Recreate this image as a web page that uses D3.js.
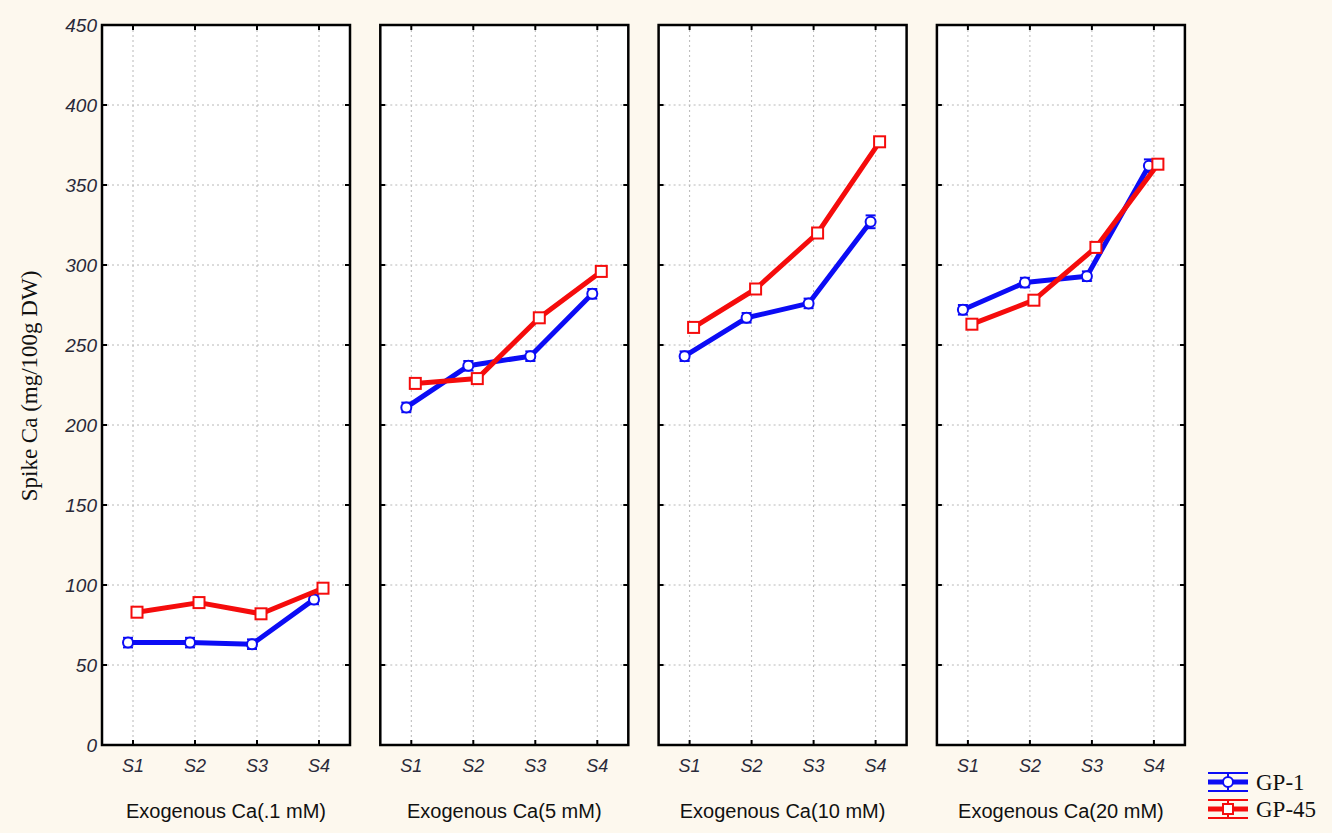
<!DOCTYPE html>
<html>
<head>
<meta charset="utf-8">
<script src="https://cdn.jsdelivr.net/npm/d3@7"></script>
<style>
  body { margin: 0; background: #fdf8ee; }
  svg { display: block; }
  .ylab text { font-family: Arial, "Liberation Sans", sans-serif; font-style: italic; font-size: 19px; fill: #2a2a3a; }
  .xlab text { font-family: Arial, "Liberation Sans", sans-serif; font-style: italic; font-size: 18px; fill: #2a2a3a; }
</style>
</head>
<body>
<script>
var stages = ["S1", "S2", "S3", "S4"];
var panels = ["Exogenous Ca(.1 mM)", "Exogenous Ca(5 mM)", "Exogenous Ca(10 mM)", "Exogenous Ca(20 mM)"];
var yTicks = [0, 50, 100, 150, 200, 250, 300, 350, 400, 450];

// mean values per panel, S1..S4
var gp1 = [
  [64, 64, 63, 91],
  [211, 237, 243, 282],
  [243, 267, 276, 327],
  [272, 289, 293, 362]
];
var gp45 = [
  [83, 89, 82, 98],
  [226, 229, 267, 296],
  [261, 285, 320, 377],
  [263, 278, 311, 363]
];
// error bar half-widths
var gp1Err = [
  [3, 3, 3, 3],
  [3, 3, 3, 3],
  [3, 3, 3, 4],
  [3, 3, 3, 4]
];
var gp45Err = [
  [3, 3, 3, 3],
  [3, 3, 3, 3],
  [3, 3, 3, 3],
  [3, 3, 3, 3]
];

var width = 1332, height = 833;
var plotTop = 25, plotBottom = 745;
var panelW = 248, panelStep = 278.3, firstLeft = 102;

var svg = d3.select("body").append("svg").attr("width", width).attr("height", height);
svg.append("rect").attr("width", width).attr("height", height).attr("fill", "#fdf8ee");

var y = d3.scaleLinear().domain([0, 450]).range([plotBottom, plotTop]);
var x = d3.scalePoint().domain(stages).range([0, panelW]).padding(0.5);

var series = [
  { name: "GP-1", vals: gp1, err: gp1Err, color: "#0c0cf5", shape: "circle", dx: -5 },
  { name: "GP-45", vals: gp45, err: gp45Err, color: "#f50c0c", shape: "square", dx: 4 }
];

panels.forEach(function(title, p) {
  var g = svg.append("g").attr("transform", "translate(" + (firstLeft + p * panelStep) + ",0)");

  g.append("rect").attr("x", 0).attr("y", plotTop).attr("width", panelW).attr("height", plotBottom - plotTop).attr("fill", "#fff");

  // grid
  g.selectAll(".hg").data(yTicks.slice(1, -1)).enter().append("line")
    .attr("x1", 0).attr("x2", panelW)
    .attr("y1", function(d) { return y(d); }).attr("y2", function(d) { return y(d); })
    .attr("stroke", "#b8b8b8").attr("stroke-width", 1).attr("stroke-dasharray", "2,3");
  g.selectAll(".vg").data(stages).enter().append("line")
    .attr("x1", function(d) { return x(d); }).attr("x2", function(d) { return x(d); })
    .attr("y1", plotTop).attr("y2", plotBottom)
    .attr("stroke", "#b8b8b8").attr("stroke-width", 1).attr("stroke-dasharray", "2,3");

  // inside ticks
  var tickG = g.append("g");
  yTicks.forEach(function(t) {
    tickG.append("line").attr("x1", 0).attr("x2", 5).attr("y1", y(t)).attr("y2", y(t)).attr("stroke", "#000").attr("stroke-width", 2);
    tickG.append("line").attr("x1", panelW - 5).attr("x2", panelW).attr("y1", y(t)).attr("y2", y(t)).attr("stroke", "#000").attr("stroke-width", 2);
  });
  stages.forEach(function(s) {
    tickG.append("line").attr("x1", x(s)).attr("x2", x(s)).attr("y1", plotBottom - 5).attr("y2", plotBottom).attr("stroke", "#000").attr("stroke-width", 2);
    tickG.append("line").attr("x1", x(s)).attr("x2", x(s)).attr("y1", plotTop).attr("y2", plotTop + 5).attr("stroke", "#000").attr("stroke-width", 2);
  });

  // series
  series.forEach(function(s) {
    var pts = stages.map(function(st, i) { return { st: st, v: s.vals[p][i], e: s.err[p][i] }; });
    var line = d3.line().x(function(d) { return x(d.st) + s.dx; }).y(function(d) { return y(d.v); });
    g.append("path").datum(pts).attr("d", line).attr("fill", "none")
      .attr("stroke", s.color).attr("stroke-width", 5).attr("stroke-linejoin", "round");

    var eg = g.selectAll(".e" + s.name).data(pts).enter().append("g");
    eg.append("line")
      .attr("x1", function(d) { return x(d.st) + s.dx; }).attr("x2", function(d) { return x(d.st) + s.dx; })
      .attr("y1", function(d) { return y(d.v + d.e); }).attr("y2", function(d) { return y(d.v - d.e); })
      .attr("stroke", s.color).attr("stroke-width", 2);
    [1, -1].forEach(function(sign) {
      eg.append("line")
        .attr("x1", function(d) { return x(d.st) + s.dx - 5; }).attr("x2", function(d) { return x(d.st) + s.dx + 5; })
        .attr("y1", function(d) { return y(d.v + sign * d.e); }).attr("y2", function(d) { return y(d.v + sign * d.e); })
        .attr("stroke", s.color).attr("stroke-width", 2);
    });
    if (s.shape === "circle") {
      eg.append("circle")
        .attr("cx", function(d) { return x(d.st) + s.dx; }).attr("cy", function(d) { return y(d.v); })
        .attr("r", 5).attr("fill", "#fff").attr("stroke", s.color).attr("stroke-width", 2);
    } else {
      eg.append("rect")
        .attr("x", function(d) { return x(d.st) + s.dx - 5.5; }).attr("y", function(d) { return y(d.v) - 5.5; })
        .attr("width", 11).attr("height", 11).attr("fill", "#fff").attr("stroke", s.color).attr("stroke-width", 2);
    }
  });

  // frame
  g.append("rect").attr("x", 0).attr("y", plotTop).attr("width", panelW).attr("height", plotBottom - plotTop)
    .attr("fill", "none").attr("stroke", "#000").attr("stroke-width", 2.5);

  // x labels
  g.append("g").attr("class", "xlab").selectAll("text").data(stages).enter().append("text")
    .attr("x", function(d) { return x(d); }).attr("y", 772)
    .attr("text-anchor", "middle").text(function(d) { return d; });

  g.append("text").attr("x", panelW / 2).attr("y", 818).attr("text-anchor", "middle")
    .style("font-family", "Arial, 'Liberation Sans', sans-serif").style("font-size", "20px").style("fill", "#111")
    .text(title);

  if (p === 0) {
    g.append("g").attr("class", "ylab").selectAll("text").data(yTicks).enter().append("text")
      .attr("x", -5).attr("y", function(d) { return y(d) + 7; })
      .attr("text-anchor", "end").text(function(d) { return d; });
  }
});

// y title
svg.append("text").attr("transform", "translate(37,386) rotate(-90)").attr("text-anchor", "middle")
  .style("font-family", "'Liberation Serif', 'Times New Roman', serif").style("font-size", "23px").style("fill", "#111")
  .text("Spike Ca (mg/100g DW)");

// legend
var leg = svg.append("g").attr("transform", "translate(1208,0)");
series.forEach(function(s, i) {
  var cy = 782 + i * 27;
  var lg = leg.append("g").attr("transform", "translate(0," + cy + ")");
  lg.append("line").attr("x1", 0).attr("x2", 40).attr("y1", -9).attr("y2", -9).attr("stroke", s.color).attr("stroke-width", 2);
  lg.append("line").attr("x1", 0).attr("x2", 40).attr("y1", 9).attr("y2", 9).attr("stroke", s.color).attr("stroke-width", 2);
  lg.append("line").attr("x1", 0).attr("x2", 40).attr("y1", 0).attr("y2", 0).attr("stroke", s.color).attr("stroke-width", 5);
  lg.append("line").attr("x1", 20).attr("x2", 20).attr("y1", -9).attr("y2", 9).attr("stroke", s.color).attr("stroke-width", 2);
  if (s.shape === "circle") {
    lg.append("circle").attr("cx", 20).attr("cy", 0).attr("r", 5).attr("fill", "#fff").attr("stroke", s.color).attr("stroke-width", 2);
  } else {
    lg.append("rect").attr("x", 15).attr("y", -5).attr("width", 10).attr("height", 10).attr("fill", "#fff").attr("stroke", s.color).attr("stroke-width", 2);
  }
  lg.append("text").attr("x", 48).attr("y", 8)
    .style("font-family", "'Liberation Serif', 'Times New Roman', serif").style("font-size", "23px").style("fill", "#111")
    .text(s.name);
});
</script>
</body>
</html>
